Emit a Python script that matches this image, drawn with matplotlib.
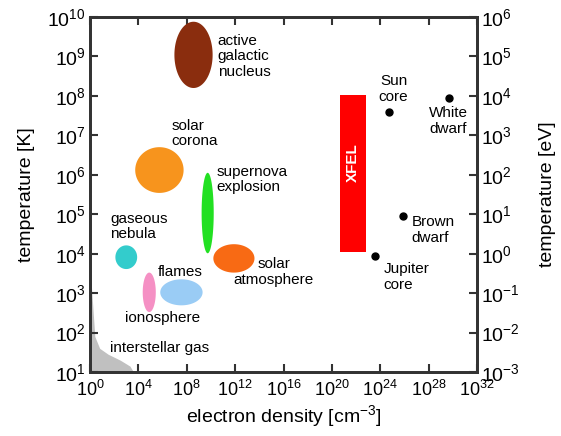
import matplotlib
matplotlib.use("Agg")
import matplotlib.pyplot as plt
import numpy as np

plt.rcParams["font.family"] = ["Liberation Sans", "DejaVu Sans"]
plt.rcParams["mathtext.default"] = "regular"
plt.rcParams["axes.unicode_minus"] = False

# plasma regions: log10 density centre, log10 T centre, half widths in decades, colour
region_names = ["agn", "corona", "supernova", "nebula", "ionosphere", "flames", "solar_atm"]
region_logn = [8.56, 5.74, 9.73, 3.0, 4.9, 7.56, 11.9]
region_logT = [9.04, 6.12, 5.03, 3.91, 3.02, 3.02, 3.88]
region_dn = [1.58, 2.0, 0.5, 0.9, 0.54, 1.75, 1.7]
region_dT = [0.84, 0.58, 1.02, 0.3, 0.5, 0.33, 0.36]
region_colors = ["#8a2d0e", "#f7941d", "#22e022", "#33cccc", "#f590c4", "#9accf5", "#f86a14"]

# point objects
point_names = ["Sun core", "White dwarf", "Brown dwarf", "Jupiter core"]
point_logn = [24.7, 29.7, 25.9, 23.6]
point_logT = [7.59, 7.95, 4.95, 3.94]

# XFEL block
xfel_logn = (20.7, 22.8)
xfel_logT = (4.04, 8.02)

# interstellar gas outline (log n, log T)
ism_logn = [0.0, 0.2, 0.4, 0.8, 1.5, 2.5, 3.3, 3.6]
ism_logT = [3.7, 2.8, 1.9, 1.6, 1.45, 1.3, 1.15, 1.0]

# labels: text, log n, log T, ha
labels = [
    ("active\ngalactic\nnucleus", 10.55, 9.0, "left"),
    ("solar\ncorona", 6.73, 7.05, "left"),
    ("supernova\nexplosion", 10.47, 5.88, "left"),
    ("solar\natmosphere", 15.2, 3.53, "center"),
    ("gaseous\nnebula", 1.66, 4.69, "left"),
    ("flames", 5.57, 3.53, "left"),
    ("ionosphere", 5.98, 2.37, "center"),
    ("interstellar gas", 1.66, 1.61, "left"),
    ("Sun\ncore", 25.1, 8.17, "center"),
    ("White\ndwarf", 29.6, 7.36, "center"),
    ("Brown\ndwarf", 26.6, 4.6, "left"),
    ("Jupiter\ncore", 24.27, 3.41, "left"),
]

fig = plt.figure(figsize=(5.61, 4.36), dpi=100)
ax = fig.add_axes([0.1604, 0.1468, 0.6899, 0.8142])
ax.set_xscale("log")
ax.set_yscale("log")
ax.set_xlim(1e0, 1e32)
ax.set_ylim(1e1, 1e10)

# interstellar gas
ax.fill_between(10 ** np.array(ism_logn), 10 ** np.array(ism_logT), 10,
                color="#c0c0c0", lw=0, zorder=1)

t = np.linspace(0, 2 * np.pi, 200)
for cn, cT, dn, dT, col in zip(region_logn, region_logT, region_dn, region_dT, region_colors):
    ax.fill(10 ** (cn + dn * np.cos(t)), 10 ** (cT + dT * np.sin(t)), color=col, lw=0, zorder=2)

ax.fill_between([10 ** xfel_logn[0], 10 ** xfel_logn[1]], 10 ** xfel_logT[0], 10 ** xfel_logT[1],
                color="#ff0000", lw=0, zorder=2)
ax.text(10 ** np.mean(xfel_logn), 10 ** 6.3, "XFEL", color="white", fontsize=11,
        fontweight="bold", rotation=90, ha="center", va="center", zorder=3)

ax.plot(10 ** np.array(point_logn), 10 ** np.array(point_logT), "o", color="black", ms=5, zorder=3)

for txt, ln, lT, ha in labels:
    ax.text(10 ** ln, 10 ** lT, txt, fontsize=11, ha=ha, va="center", linespacing=1.15, zorder=4)

ax.set_xticks([10.0 ** k for k in range(0, 33, 4)])
ax.set_xticklabels([f"$10^{{{k}}}$" for k in range(0, 33, 4)])
ax.set_yticks([10.0 ** k for k in range(1, 11)])
ax.set_yticklabels([f"$10^{{{k}}}$" for k in range(1, 11)])
ax.minorticks_off()
ax.tick_params(direction="in", length=6, width=1.5, color="#333333", labelsize=14,
               top=True, pad=3)
ax.tick_params(axis="x", labelsize=13, pad=6)
ax.set_xlabel("electron density [cm$^{-3}$]", fontsize=14, labelpad=2)
ax.set_ylabel("temperature [K]", fontsize=14, labelpad=9)
for s in ax.spines.values():
    s.set_linewidth(2)
    s.set_color("#333333")

ax2 = ax.twinx()
ax2.set_yscale("log")
ax2.set_ylim(1e-3, 1e6)
ax2.set_yticks([10.0 ** k for k in range(-3, 7)])
ax2.set_yticklabels([f"$10^{{{k}}}$" for k in range(-3, 7)])
ax2.minorticks_off()
ax2.tick_params(direction="in", length=6, width=1.5, color="#333333", labelsize=14, pad=3)
ax2.set_ylabel("temperature [eV]", fontsize=14, labelpad=14)
for s in ax2.spines.values():
    s.set_linewidth(2)
    s.set_color("#333333")

fig.savefig("out.png", dpi=100)
